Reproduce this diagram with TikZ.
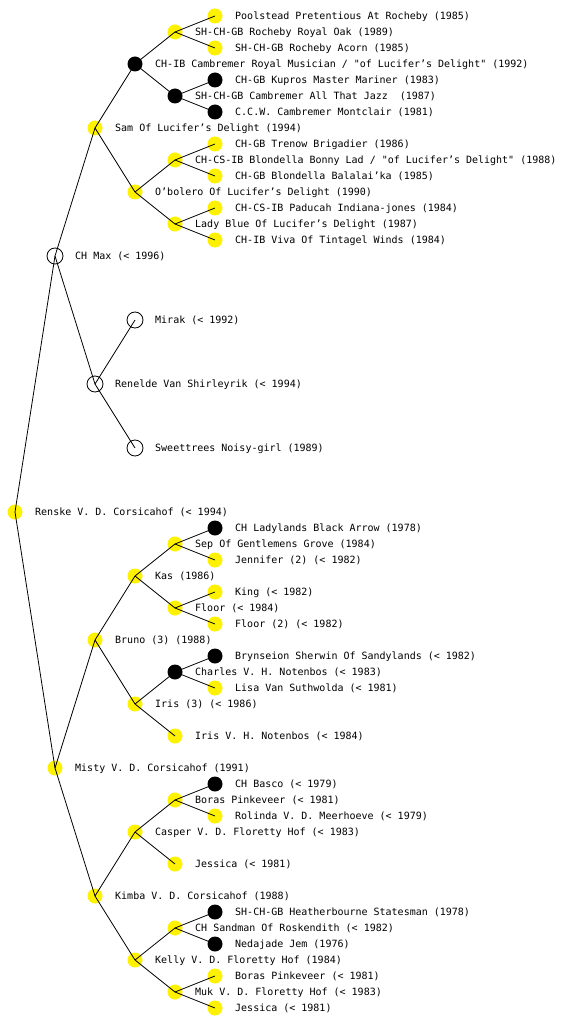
\documentclass[tikz,border=0pt]{standalone}
\usepackage{fontspec}
\setmonofont{DejaVu Sans Mono}
\usepackage{tikz}
\usetikzlibrary{positioning}
% one dog: marker node (#1) and its name node (#1t)
\newcommand{\dog}[5]{%
  \node[#4] (#1) at (#2,#3) {};
  \node[txt] (#1t) at (#2+20,#3+3.5) {#5};}

\begin{document}
\begin{tikzpicture}[x=1pt, y=-1pt,
  dogmark/.style={circle, inner sep=0pt, outer sep=0pt, minimum size=15pt},
  ylw/.style={dogmark, fill=yellow},
  blk/.style={dogmark, fill=black},
  opn/.style={dogmark, minimum size=16pt, draw=black, line width=0.8pt, fill=white},
  txt/.style={anchor=base west, inner sep=0pt,
              font=\ttfamily\fontsize{10}{12}\selectfont},
  ln/.style={line width=0.8pt}
]
  \useasboundingbox (0,0) rectangle (560,1024);

  % generation 0-2
  \dog{ren}{15}{512}{ylw}{Renske V. D. Corsicahof (< 1994)}
  \dog{max}{55}{256}{opn}{CH Max (< 1996)}
  \dog{mis}{55}{768}{ylw}{Misty V. D. Corsicahof (1991)}
  \dog{sam}{95}{128}{ylw}{Sam Of Lucifer’s Delight (1994)}
  \dog{rnl}{95}{384}{opn}{Renelde Van Shirleyrik (< 1994)}
  \dog{bru}{95}{640}{ylw}{Bruno (3) (1988)}
  \dog{kim}{95}{896}{ylw}{Kimba V. D. Corsicahof (1988)}

  % generation 3
  \dog{cam}{135}{64}{blk}{CH-IB Cambremer Royal Musician / "of Lucifer’s Delight" (1992)}
  \dog{obo}{135}{192}{ylw}{O’bolero Of Lucifer’s Delight (1990)}
  \dog{mir}{135}{320}{opn}{Mirak (< 1992)}
  \dog{swe}{135}{448}{opn}{Sweettrees Noisy-girl (1989)}
  \dog{kas}{135}{576}{ylw}{Kas (1986)}
  \dog{iri}{135}{704}{ylw}{Iris (3) (< 1986)}
  \dog{cas}{135}{832}{ylw}{Casper V. D. Floretty Hof (< 1983)}
  \dog{kel}{135}{960}{ylw}{Kelly V. D. Floretty Hof (1984)}

  % generation 4
  \dog{roy}{175}{32}{ylw}{SH-CH-GB Rocheby Royal Oak (1989)}
  \dog{jaz}{175}{96}{blk}{SH-CH-GB Cambremer All That Jazz~ (1987)}
  \dog{bon}{175}{160}{ylw}{CH-CS-IB Blondella Bonny Lad / "of Lucifer’s Delight" (1988)}
  \dog{lad}{175}{224}{ylw}{Lady Blue Of Lucifer’s Delight (1987)}
  \dog{sep}{175}{544}{ylw}{Sep Of Gentlemens Grove (1984)}
  \dog{flo}{175}{608}{ylw}{Floor (< 1984)}
  \dog{cha}{175}{672}{blk}{Charles V. H. Notenbos (< 1983)}
  \dog{irn}{175}{736}{ylw}{Iris V. H. Notenbos (< 1984)}
  \dog{bor}{175}{800}{ylw}{Boras Pinkeveer (< 1981)}
  \dog{jes}{175}{864}{ylw}{Jessica (< 1981)}
  \dog{san}{175}{928}{ylw}{CH Sandman Of Roskendith (< 1982)}
  \dog{muk}{175}{992}{ylw}{Muk V. D. Floretty Hof (< 1983)}

  % generation 5
  \dog{poo}{215}{16}{ylw}{Poolstead Pretentious At Rocheby (1985)}
  \dog{aco}{215}{48}{ylw}{SH-CH-GB Rocheby Acorn (1985)}
  \dog{kup}{215}{80}{blk}{CH-GB Kupros Master Mariner (1983)}
  \dog{ccw}{215}{112}{blk}{C.C.W. Cambremer Montclair (1981)}
  \dog{tre}{215}{144}{ylw}{CH-GB Trenow Brigadier (1986)}
  \dog{bal}{215}{176}{ylw}{CH-GB Blondella Balalai’ka (1985)}
  \dog{pad}{215}{208}{ylw}{CH-CS-IB Paducah Indiana-jones (1984)}
  \dog{viv}{215}{240}{ylw}{CH-IB Viva Of Tintagel Winds (1984)}
  \dog{lbl}{215}{528}{blk}{CH Ladylands Black Arrow (1978)}
  \dog{jen}{215}{560}{ylw}{Jennifer (2) (< 1982)}
  \dog{kin}{215}{592}{ylw}{King (< 1982)}
  \dog{fl2}{215}{624}{ylw}{Floor (2) (< 1982)}
  \dog{bry}{215}{656}{blk}{Brynseion Sherwin Of Sandylands (< 1982)}
  \dog{lis}{215}{688}{ylw}{Lisa Van Suthwolda (< 1981)}
  \dog{bas}{215}{784}{blk}{CH Basco (< 1979)}
  \dog{rol}{215}{816}{ylw}{Rolinda V. D. Meerhoeve (< 1979)}
  \dog{hea}{215}{912}{blk}{SH-CH-GB Heatherbourne Statesman (1978)}
  \dog{ned}{215}{944}{blk}{Nedajade Jem (1976)}
  \dog{bo2}{215}{976}{ylw}{Boras Pinkeveer (< 1981)}
  \dog{je2}{215}{1008}{ylw}{Jessica (< 1981)}

  % parent links
  \foreach \a/\b in {ren/max, ren/mis, max/sam, max/rnl, sam/cam, sam/obo,
                     cam/roy, cam/jaz, roy/poo, roy/aco, jaz/kup, jaz/ccw,
                     obo/bon, obo/lad, bon/tre, bon/bal, lad/pad, lad/viv,
                     rnl/mir, rnl/swe, mis/bru, mis/kim, bru/kas, bru/iri,
                     kas/sep, kas/flo, sep/lbl, sep/jen, flo/kin, flo/fl2,
                     iri/cha, iri/irn, cha/bry, cha/lis, kim/cas, kim/kel,
                     cas/bor, cas/jes, bor/bas, bor/rol, kel/san, kel/muk,
                     san/hea, san/ned, muk/bo2, muk/je2}
    \draw[ln] (\a.center) -- (\b.center);
\end{tikzpicture}
\end{document}
